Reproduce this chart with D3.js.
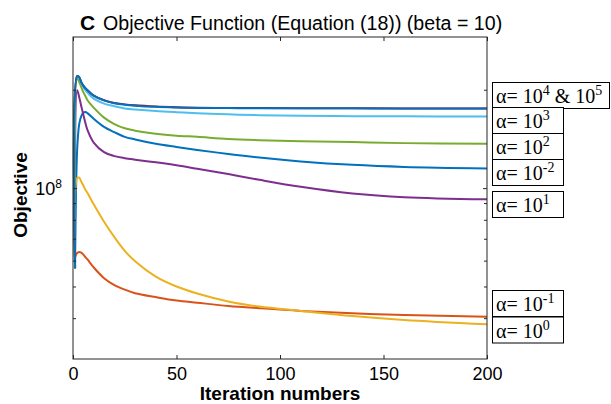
<!DOCTYPE html>
<html>
<head>
<meta charset="utf-8">
<script src="https://cdn.jsdelivr.net/npm/d3@7"></script>
<style>
  body { margin: 0; background: #fff; }
  svg { display: block; }
</style>
</head>
<body>
<svg id="chart" width="611" height="404"></svg>
<script>
// Iteration indices at which the objective was recorded
const iterations = [1, 2, 3, 4, 5, 6, 7, 10, 15, 20, 25, 30, 40, 50, 60, 75, 90, 110, 135, 160, 200];

// Objective value per iteration, one array per alpha
const objAlphaM2 = [5.69e7, 1.307e8, 1.570e8, 1.660e8, 1.702e8, 1.711e8, 1.696e8, 1.629e8, 1.539e8, 1.483e8, 1.435e8, 1.409e8, 1.367e8, 1.337e8, 1.309e8, 1.272e8, 1.240e8, 1.207e8, 1.178e8, 1.161e8, 1.149e8];
const objAlphaM1 = [6.15e7, 6.33e7, 6.38e7, 6.35e7, 6.26e7, 6.15e7, 6.05e7, 5.72e7, 5.30e7, 5.05e7, 4.89e7, 4.77e7, 4.64e7, 4.53e7, 4.46e7, 4.36e7, 4.29e7, 4.21e7, 4.14e7, 4.09e7, 4.04e7];
const objAlpha0  = [5.94e7, 1.073e8, 1.077e8, 1.047e8, 1.018e8, 9.89e7, 9.66e7, 8.92e7, 7.89e7, 7.08e7, 6.43e7, 5.97e7, 5.36e7, 5.00e7, 4.76e7, 4.50e7, 4.34e7, 4.21e7, 4.06e7, 3.95e7, 3.83e7];
const objAlpha1  = [5.69e7, 1.994e8, 1.898e8, 1.781e8, 1.678e8, 1.581e8, 1.505e8, 1.378e8, 1.288e8, 1.253e8, 1.235e8, 1.222e8, 1.199e8, 1.174e8, 1.146e8, 1.104e8, 1.060e8, 1.009e8, 9.63e7, 9.38e7, 9.24e7];
const objAlpha2  = [5.69e7, 2.170e8, 2.110e8, 2.037e8, 1.966e8, 1.912e8, 1.858e8, 1.763e8, 1.643e8, 1.570e8, 1.524e8, 1.499e8, 1.467e8, 1.447e8, 1.435e8, 1.414e8, 1.402e8, 1.392e8, 1.383e8, 1.373e8, 1.366e8];
const objAlpha3  = [5.69e7, 2.201e8, 2.170e8, 2.095e8, 2.037e8, 1.994e8, 1.959e8, 1.878e8, 1.813e8, 1.781e8, 1.753e8, 1.741e8, 1.722e8, 1.708e8, 1.696e8, 1.682e8, 1.672e8, 1.666e8, 1.660e8, 1.658e8, 1.657e8];
const objAlpha4  = [5.69e7, 2.201e8, 2.185e8, 2.110e8, 2.058e8, 2.022e8, 1.994e8, 1.918e8, 1.857e8, 1.822e8, 1.804e8, 1.792e8, 1.777e8, 1.768e8, 1.762e8, 1.758e8, 1.757e8, 1.756e8, 1.755e8, 1.753e8, 1.752e8];
const objAlpha5  = [5.69e7, 2.201e8, 2.185e8, 2.110e8, 2.058e8, 2.022e8, 1.994e8, 1.918e8, 1.855e8, 1.819e8, 1.800e8, 1.788e8, 1.773e8, 1.765e8, 1.760e8, 1.757e8, 1.756e8, 1.755e8, 1.754e8, 1.753e8, 1.752e8];

// Axis ticks
const xTicks = [0, 50, 100, 150, 200];
const yMajorTicks = [1e8];
const yMinorTicks = [4e7, 5e7, 6e7, 7e7, 8e7, 9e7, 2e8];

// Label boxes: exponent(s) of alpha shown in each box
const labelExponents = [["4", "5"], ["3"], ["2"], ["-2"], ["1"], ["-1"], ["0"]];

// ---- drawing ----
const plot = { left: 73, right: 487, top: 37, bottom: 359 };
const sans = "'Liberation Sans', Arial, Helvetica, sans-serif";
const serif = "'Liberation Serif', 'Times New Roman', Times, serif";
const axisColor = "#262626";

const svg = d3.select("#chart");

const x = d3.scaleLinear().domain([0, 200]).range([plot.left, plot.right]);
const y = d3.scaleLog().domain([3e7, 2.9e8]).range([plot.bottom, plot.top]);

// Series in plotting order (later ones on top)
const series = [
  { values: objAlphaM2, color: "#0072BD" },
  { values: objAlphaM1, color: "#D95319" },
  { values: objAlpha0,  color: "#EDB120" },
  { values: objAlpha1,  color: "#7E2F8E" },
  { values: objAlpha2,  color: "#77AC30" },
  { values: objAlpha3,  color: "#4DBEEE" },
  { values: objAlpha4,  color: "#A2142F" },
  { values: objAlpha5,  color: "#0072BD" }
];

const line = d3.line()
  .x(d => x(d[0]))
  .y(d => y(d[1]))
  .curve(d3.curveCatmullRom.alpha(0.5));

const lines = svg.append("g");
series.forEach(s => {
  lines.append("path")
    .datum(s.values.map((v, i) => [iterations[i], v]))
    .attr("d", line)
    .attr("fill", "none")
    .attr("stroke", s.color)
    .attr("stroke-width", 2)
    .attr("stroke-linejoin", "round");
});

// Axes (ticks pointing inward on all four sides)
function styleAxis(g) {
  g.select(".domain").remove();
  g.selectAll(".tick line").attr("stroke", axisColor).attr("stroke-width", 1);
  g.selectAll(".tick text").attr("fill", "#000").attr("font-family", sans).attr("font-size", 18);
}

svg.append("g")
  .attr("transform", `translate(0,${plot.bottom})`)
  .call(d3.axisBottom(x).tickValues(xTicks).tickSize(-4).tickSizeOuter(0).tickPadding(8).tickFormat(d3.format("d")))
  .call(styleAxis);

svg.append("g")
  .attr("transform", `translate(0,${plot.top})`)
  .call(d3.axisTop(x).tickValues(xTicks).tickSize(-4).tickSizeOuter(0).tickFormat(""))
  .call(styleAxis);

[[d3.axisLeft, plot.left], [d3.axisRight, plot.right]].forEach(([axisFn, pos]) => {
  svg.append("g")
    .attr("transform", `translate(${pos},0)`)
    .call(axisFn(y).tickValues(yMajorTicks).tickSize(-4).tickSizeOuter(0).tickFormat(""))
    .call(styleAxis);
  svg.append("g")
    .attr("transform", `translate(${pos},0)`)
    .call(axisFn(y).tickValues(yMinorTicks).tickSize(-3).tickSizeOuter(0).tickFormat(""))
    .call(styleAxis);
});

// Axes box
svg.append("rect")
  .attr("x", plot.left).attr("y", plot.top)
  .attr("width", plot.right - plot.left).attr("height", plot.bottom - plot.top)
  .attr("fill", "none").attr("stroke", axisColor).attr("stroke-width", 1);

// Log tick label 10^8
yMajorTicks.forEach(v => {
  const t = svg.append("text")
    .attr("x", plot.left - 11).attr("y", y(v) + 7)
    .attr("text-anchor", "end")
    .attr("font-family", sans).attr("font-size", 18).attr("fill", "#000");
  t.append("tspan").text("10");
  t.append("tspan").attr("font-size", 12).attr("dy", -7).text(String(Math.round(Math.log10(v))));
});

// Axis titles
svg.append("text")
  .attr("x", (plot.left + plot.right) / 2).attr("y", 400)
  .attr("text-anchor", "middle")
  .attr("font-family", sans).attr("font-size", 19).attr("font-weight", "bold")
  .text("Iteration numbers");

svg.append("text")
  .attr("transform", "translate(27,195) rotate(-90)")
  .attr("text-anchor", "middle")
  .attr("font-family", sans).attr("font-size", 19).attr("font-weight", "bold")
  .text("Objective");

// Title
svg.append("text")
  .attr("x", 80).attr("y", 30)
  .attr("font-family", sans).attr("font-size", 21).attr("font-weight", "bold")
  .text("C");
svg.append("text")
  .attr("x", 103).attr("y", 30)
  .attr("font-family", sans).attr("font-size", 19.6)
  .text("Objective Function (Equation (18)) (beta = 10)");

// Alpha label boxes at the right of the axes
const boxLayout = [
  { top: 82,    width: 117 },
  { top: 107,   width: 71 },
  { top: 133,   width: 71 },
  { top: 159,   width: 71 },
  { top: 191,   width: 71 },
  { top: 290,   width: 71 },
  { top: 316.5, width: 71 }
];
const boxLeft = 492, boxH = 26;

labelExponents.forEach((exps, i) => {
  const b = boxLayout[i];
  const g = svg.append("g");
  g.append("rect")
    .attr("x", boxLeft + 0.5).attr("y", b.top + 0.5)
    .attr("width", b.width).attr("height", boxH)
    .attr("fill", "#fff").attr("stroke", "#000").attr("stroke-width", 1);
  const t = g.append("text")
    .attr("x", boxLeft + 4).attr("y", b.top + 21)
    .attr("font-family", serif).attr("font-size", 20).attr("fill", "#000");
  t.append("tspan").text("\u03b1= 10");
  t.append("tspan").attr("font-size", 14).attr("dy", -8).text(exps[0]);
  if (exps.length > 1) {
    t.append("tspan").attr("dy", 8).text(" & 10");
    t.append("tspan").attr("font-size", 14).attr("dy", -8).text(exps[1]);
  }
});
</script>
</body>
</html>
